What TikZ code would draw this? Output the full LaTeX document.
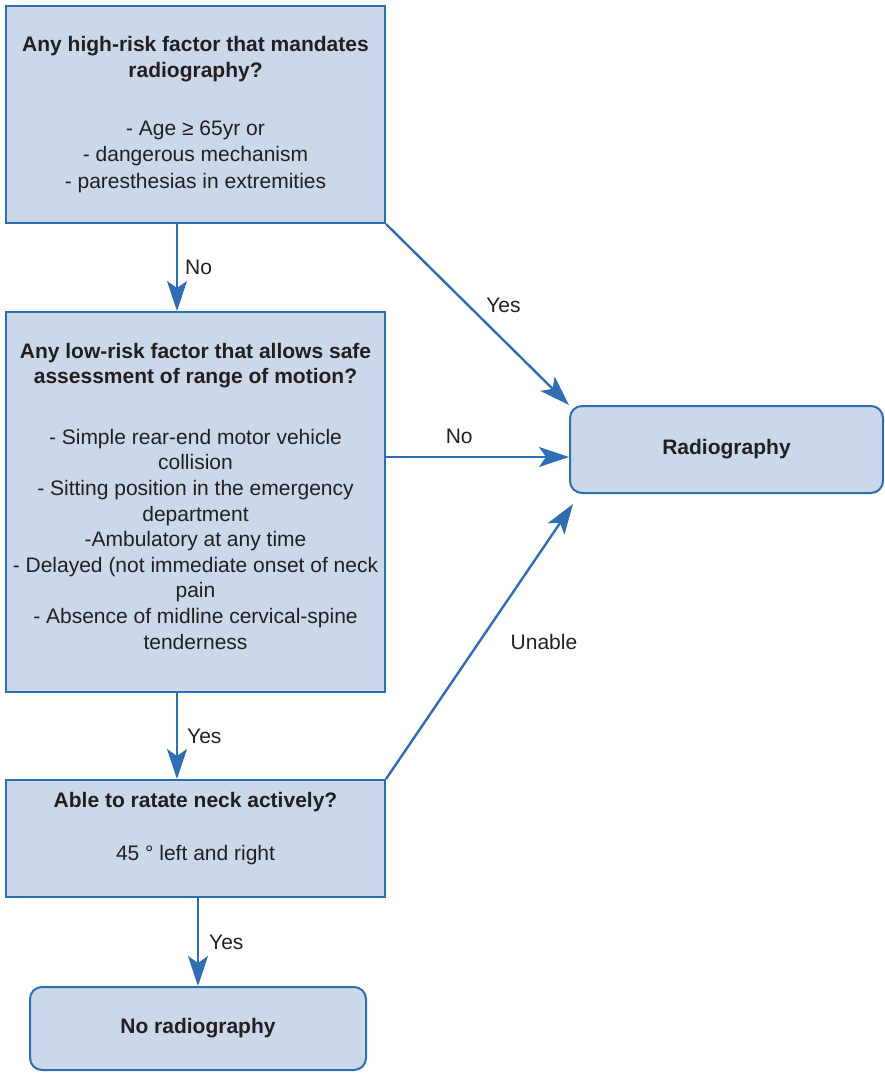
\documentclass[tikz,border=0pt]{standalone}
\usepackage{fontspec}
\setmainfont{Liberation Sans}
\usetikzlibrary{arrows.meta}
\definecolor{boxfill}{HTML}{CBD8E9}
\definecolor{boxline}{HTML}{2F6DB5}
\definecolor{ink}{HTML}{231F20}
\tikzset{
  qbox/.style={draw=boxline,fill=boxfill,line width=1pt,minimum width=189.5pt,align=center,text=ink,inner sep=0pt},
  endbox/.style={qbox,rounded corners=6pt},
  arr/.style={draw=boxline,line width=1.2pt,-{Stealth[length=15pt,width=10pt,inset=3.5pt]}},
  lbl/.style={text=ink,inner sep=1pt}
}
\begin{document}
\begin{tikzpicture}[x=0.5pt,y=-0.5pt,font=\fontsize{10.5}{13.25}\selectfont]
\useasboundingbox (0,0) rectangle (885,1073);
\node[qbox,minimum height=108.5pt] (H) at (195.5,114.5) {\bfseries Any high-risk factor that mandates\\\bfseries radiography?\\[15.5pt]- Age ≥ 65yr or\\- dangerous mechanism\\- paresthesias in extremities};
\node[qbox,minimum height=190pt,font=\fontsize{10.5}{12.8}\selectfont] (L) at (195.5,502) {\bfseries Any low-risk factor that allows safe\\\bfseries assessment of range of motion?\\[17.5pt]- Simple rear-end motor vehicle\\collision\\- Sitting position in the emergency\\department\\-Ambulatory at any time\\- Delayed (not immediate onset of neck\\pain\\- Absence of midline cervical-spine\\tenderness\rule[-6pt]{0pt}{0pt}};
\node[endbox,minimum width=156.5pt,minimum height=43.5pt] (R) at (726.5,449.5) {\bfseries Radiography};
\node[qbox,minimum height=58.5pt] (A) at (195.5,838.5) {\bfseries Able to ratate neck actively?\\[13.5pt]45 ° left and right\rule[-12pt]{0pt}{0pt}};
\node[endbox,minimum width=168pt,minimum height=41.5pt] (N) at (198,1028.5) {\bfseries No radiography};
\draw[arr] ([xshift=-9.25pt]H.south) -- ([xshift=-9.25pt]L.north) node[lbl,midway,right=2.5pt] (noA) {No};
\draw[arr] (H.south east) -- (R.north west) node[lbl,pos=0.52,above right=1pt] (yesA) {Yes};
\draw[arr] ([yshift=-3.75pt]R.west -| L.east) -- ([yshift=-3.75pt]R.west) node[lbl,pos=0.4,above=5pt] (noB) {No};
\draw[arr] (A.north east) -- ([shift={(2pt,-5pt)}]R.south west) node[lbl,midway,right=14pt] (unable) {Unable};
\draw[arr] ([xshift=-9.25pt]L.south) -- ([xshift=-9.25pt]A.north) node[lbl,midway,right=3.5pt] (yesB) {Yes};
\draw[arr] (A.south -| N.north) -- (N.north) node[lbl,midway,right=4pt] (yesC) {Yes};
\end{tikzpicture}
\end{document}
